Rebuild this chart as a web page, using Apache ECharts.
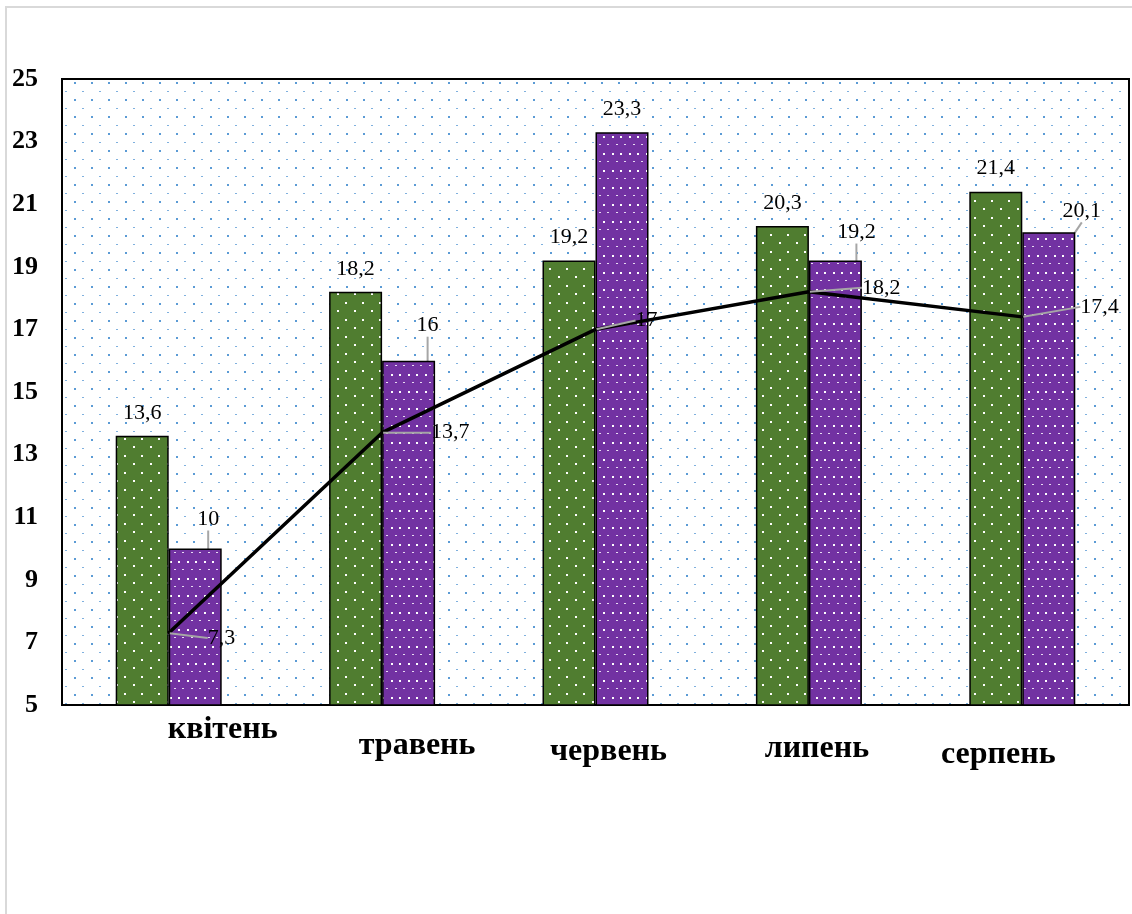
<!DOCTYPE html>
<html><head><meta charset="utf-8">
<script src="https://cdn.jsdelivr.net/npm/echarts@6/dist/echarts.min.js"></script>
<style>
html,body{margin:0;padding:0;background:#fff;overflow:hidden;width:1132px;height:914px;}
#frame{position:absolute;left:5px;top:6px;width:1200px;height:1000px;border:2px solid #d9d9d9;box-sizing:border-box;}
#chart{position:absolute;left:0;top:0;width:1132px;height:914px;}
</style></head><body>
<div id="frame"></div>
<div id="chart"></div>
<script>
// ---- data ----
const categories = ['квітень', 'травень', 'червень', 'липень', 'серпень'];
const greenValues = [13.6, 18.2, 19.2, 20.3, 21.4];
const purpleValues = [10, 16, 23.3, 19.2, 20.1];
const lineValues = [7.3, 13.7, 17, 18.2, 17.4];
const yMin = 5, yMax = 25, yStep = 2;

// ---- label placement (layout only) ----
const catShift = [[54, 3], [35, 19], [13, 25], [8, 22], [-24, 28]];
const purpleShift = [[13, -6], [19, -12], [0, 0], [21, -5], [33, 2]];
const lineShift = [[33, 5], [43, 0], [34, -9], [47, -4], [52, -10]];

const SERIF = "'Liberation Serif', 'Times New Roman', serif";
const fmt = v => String(v).replace('.', ',');

function makePattern(bg, dots) {
  const c = document.createElement('canvas');
  c.width = 17; c.height = 17;
  const g = c.getContext('2d');
  if (bg) { g.fillStyle = bg; g.fillRect(0, 0, 17, 17); }
  dots.forEach(d => { g.fillStyle = d[4]; g.fillRect(d[0], d[1], d[2], d[3]); });
  return c;
}
const bgPattern = makePattern('#ffffff', [[6, 14, 2, 2, '#5b9bd5'], [14, 6, 2, 1, '#7fb0de']]);
const greenPattern = makePattern('#507d30', [[14, 4, 2, 2, '#ffffff'], [5, 13, 2, 2, '#ffffff']]);
const purplePattern = makePattern('#7232a2', [
  [0, 0, 2, 2, '#ffffff'], [8, 0, 2, 2, '#ffffff'],
  [4, 8, 2, 1, '#e8dcf2'], [12, 8, 2, 1, '#e8dcf2']
]);

const rich = {};
catShift.forEach((s, i) => {
  rich['c' + i] = {
    fontFamily: SERIF, fontWeight: 'bold', fontSize: 32, color: '#000',
    padding: [s[1], s[0] < 0 ? -2 * s[0] : 0, 0, s[0] > 0 ? 2 * s[0] : 0]
  };
});

const chart = echarts.init(document.getElementById('chart'), null, { renderer: 'canvas' });
chart.setOption({
  animation: false,
  backgroundColor: 'transparent',
  grid: {
    left: 62, right: 3, top: 79, bottom: 209,
    show: true, borderColor: '#000', borderWidth: 2,
    backgroundColor: { image: bgPattern, repeat: 'repeat' }
  },
  xAxis: {
    type: 'category',
    data: categories,
    axisLine: { show: true, lineStyle: { color: '#000', width: 2 } },
    axisTick: { show: false },
    axisLabel: {
      interval: 0, margin: 6, hideOverlap: false,
      formatter: (v, i) => '{c' + i + '|' + v + '}',
      rich: rich
    }
  },
  yAxis: {
    type: 'value',
    min: yMin, max: yMax, interval: yStep,
    splitLine: { show: false },
    axisLine: { show: true, lineStyle: { color: '#000', width: 2 } },
    axisTick: { show: false },
    axisLabel: {
      margin: 24, fontFamily: SERIF, fontWeight: 'bold', fontSize: 26, color: '#000'
    }
  },
  series: [
    {
      type: 'bar',
      data: greenValues,
      barWidth: 53, barGap: '0%',
      itemStyle: { color: { image: greenPattern, repeat: 'repeat' }, borderColor: '#000', borderWidth: 1.5 },
      label: {
        show: true, position: 'top', distance: 12,
        fontFamily: SERIF, fontSize: 22, color: '#000',
        formatter: p => fmt(p.value)
      },
      z: 2
    },
    {
      type: 'bar',
      data: purpleValues.map((v, i) => ({
        value: v,
        labelLine: { show: purpleShift[i][0] !== 0 || purpleShift[i][1] !== 0 }
      })),
      barWidth: 53,
      itemStyle: { color: { image: purplePattern, repeat: 'repeat' }, borderColor: '#000', borderWidth: 1.5 },
      label: {
        show: true, position: 'top', distance: 12,
        fontFamily: SERIF, fontSize: 22, color: '#000',
        formatter: p => fmt(p.value)
      },
      labelLine: { show: true, lineStyle: { color: '#a6a6a6', width: 2 } },
      labelLayout: p => ({ dx: purpleShift[p.dataIndex][0], dy: purpleShift[p.dataIndex][1] }),
      z: 2
    },
    {
      type: 'line',
      data: lineValues,
      symbol: 'circle', symbolSize: 2,
      itemStyle: { color: '#000' },
      lineStyle: { color: '#000', width: 3.5 },
      label: {
        show: true, position: 'right', distance: 5,
        fontFamily: SERIF, fontSize: 22, color: '#000',
        formatter: p => fmt(p.value)
      },
      labelLine: { show: true, lineStyle: { color: '#a6a6a6', width: 2 } },
      labelLayout: p => ({ dx: lineShift[p.dataIndex][0], dy: lineShift[p.dataIndex][1] }),
      z: 5
    }
  ]
});
</script>
</body></html>
